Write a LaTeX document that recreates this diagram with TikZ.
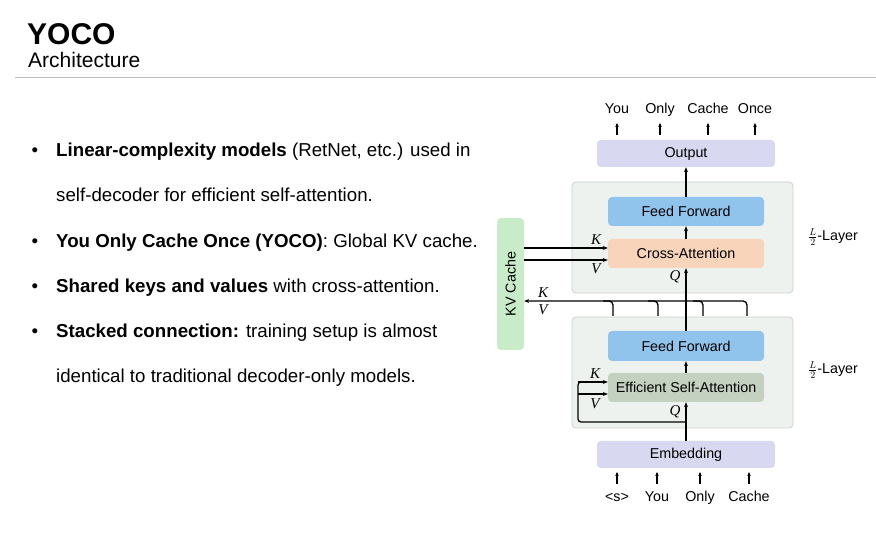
\documentclass[tikz,border=0pt]{standalone}
\usepackage{fontspec}
\setmainfont{Liberation Sans}
\newfontfamily\labfont{Liberation Serif}
\usetikzlibrary{arrows.meta}
\definecolor{lav}{RGB}{216,216,240}
\definecolor{ffblue}{RGB}{145,196,236}
\definecolor{peach}{RGB}{248,212,186}
\definecolor{esa}{RGB}{196,208,192}
\definecolor{kvg}{RGB}{200,236,200}
\definecolor{layerfill}{RGB}{238,242,238}
\definecolor{layerdraw}{RGB}{205,210,205}
\definecolor{rulegray}{RGB}{190,190,190}
\tikzset{
  blk/.style={rounded corners=4pt, minimum width=156pt, minimum height=29pt, inner sep=0pt, font=\fontsize{14.3}{16}\selectfont},
  layer/.style={rounded corners=4pt, fill=layerfill, draw=layerdraw, line width=0.8pt, minimum width=221pt, minimum height=111pt, inner sep=0pt},
  conn/.style={line width=1.3pt, -{Stealth[length=5pt,width=4pt]}},
  plain/.style={line width=1.3pt},
  word/.style={font=\fontsize{14.3}{16}\selectfont, inner sep=0pt, anchor=base},
  tok/.style={line width=1.2pt, -{Stealth[length=4pt,width=3.5pt]}},
  lab/.style={font=\labfont\itshape\fontsize{15}{17}\selectfont, inner sep=0pt},
  bul/.style={font=\fontsize{18.7}{22}\selectfont, anchor=base west, inner sep=0pt},
}
\begin{document}
\begin{tikzpicture}[x=1pt,y=-1pt]
\useasboundingbox (0,0) rectangle (876,534);
\fill[white] (0,0) rectangle (876,534);
% title
\node[anchor=base west, inner sep=0pt, font=\fontsize{30}{32}\selectfont\bfseries] (title) at (27,45) {YOCO};
\node[anchor=base west, inner sep=0pt, font=\fontsize{21}{24}\selectfont] (subtitle) at (28,68) {Architecture};
\draw[rulegray, line width=0.8pt] (15,77) -- (876,77);
% bullets
\foreach \yy/\nm in {157/b1,248/b3,293/b4,338/b5}{\node[bul, anchor=base] (\nm dot) at (35,\yy) {\textbullet};}
\node[bul] (b1) at (56,157) {\textbf{Linear-complexity models} (RetNet, etc.) used in};
\node[bul] (b2) at (56,202) {self-decoder for efficient self-attention.};
\node[bul] (b3) at (56,248) {\textbf{You Only Cache Once (YOCO)}: Global KV cache.};
\node[bul] (b4) at (56,293) {\textbf{Shared keys and values} with cross-attention.};
\node[bul] (b5) at (56,338) {\textbf{Stacked connection:} training setup is almost};
\node[bul] (b6) at (56,383) {identical to traditional decoder-only models.};
% diagram boxes
\node[layer] (up) at (682.5,237.5) {};
\node[layer] (lo) at (682.5,372.5) {};
\node[blk, fill=lav, minimum width=178pt, minimum height=27pt] (out) at (686,153.5) {Output};
\node[blk, fill=ffblue] (ff1) at (686,211.5) {Feed Forward};
\node[blk, fill=peach] (ca) at (686,253.5) {Cross-Attention};
\node[blk, fill=ffblue, minimum height=30pt] (ff2) at (686,346) {Feed Forward};
\node[blk, fill=esa] (esa) at (686,387.5) {Efficient Self-Attention};
\node[blk, fill=lav, minimum width=178pt, minimum height=27pt] (emb) at (686,454.5) {Embedding};
\node[blk, fill=kvg, minimum width=27pt, minimum height=132pt] (kv) at (510.5,284) {};
\node[font=\fontsize{14.3}{16}\selectfont, inner sep=0pt, rotate=90] (kvt) at (510.5,284) {KV Cache};
% layer labels
\node[font=\fontsize{14.3}{16}\selectfont, inner sep=0pt, anchor=west] (l1) at (808,237) {$\frac{L}{2}$-Layer};
\node[font=\fontsize{14.3}{16}\selectfont, inner sep=0pt, anchor=west] (l2) at (808,370) {$\frac{L}{2}$-Layer};
% top words
\foreach \xx/\w/\nm in {617/You/t1,660/Only/t2,708/Cache/t3,755/Once/t4}{
  \node[word] (\nm) at (\xx,114) {\w};
  \coordinate (\nm a) at (\xx,135);
  \coordinate (\nm b) at (\xx,123);
  \draw[tok] (\nm a) -- (\nm b);
}
% bottom words
\foreach \xx/\w/\nm in {617/{<s>}/s1,657/You/s2,700/Only/s3,749/Cache/s4}{
  \node[word] (\nm) at (\xx,501) {\w};
  \coordinate (\nm a) at (\xx,484);
  \coordinate (\nm b) at (\xx,472);
  \draw[tok] (\nm a) -- (\nm b);
}
% main flow
\draw[conn] (emb.north) -- (esa.south);
\node[lab] (q2) at (675,412) {Q};
\draw[conn] (esa.north) -- (ff2.south);
\draw[conn] (ff2.north) -- (ca.south);
\node[lab] (q1) at (675,277) {Q};
\draw[conn] (ca.north) -- (ff1.south);
\draw[conn] (ff1.north) -- (out.south);
% self-attention loop
\coordinate (lp) at (686,422);
\coordinate (lc) at (578,394);
\draw[plain, rounded corners=3pt] (lp) -- (578,422) -- (578,382) -- (590,382);
\draw[conn] (578,382) -- (esa.west |- 0,382);
\draw[conn] (lc) -- (esa.west |- 0,394);
\node[lab] (k2) at (595,374) {K};
\node[lab] (v2) at (595,404) {V};
% KV cache to cross attention
\draw[conn] (kv.east |- 0,248) -- (ca.west |- 0,248);
\draw[conn] (kv.east |- 0,260) -- (ca.west |- 0,260);
\node[lab] (k1) at (596,240) {K};
\node[lab] (v1) at (596,269) {V};
% KV line from lower layer
\coordinate (br4) at (747,316);
\coordinate (br3) at (703,316);
\coordinate (br2) at (658,316);
\coordinate (br1) at (613,316);
\draw[conn, rounded corners=4pt] (br4) -- (747,301) -- (kv.east |- 0,301);
\foreach \b in {br1,br2,br3}{
  \draw[plain, rounded corners=4pt] (\b) |- ++(-10,-15);
}
\node[lab] (k3) at (543,293) {K};
\node[lab] (v3) at (543,310) {V};
\end{tikzpicture}
\end{document}
